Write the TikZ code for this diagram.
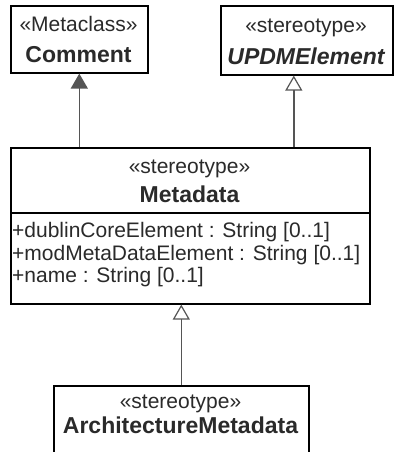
\documentclass[tikz,border=0pt]{standalone}
\usepackage{fontspec}
\setmainfont{Liberation Sans}
\usetikzlibrary{calc, arrows.meta}
\definecolor{txtgray}{HTML}{2A2A2A}
\definecolor{linegray}{HTML}{555555}
\tikzset{
  classbox/.style={draw=black, line width=1.6pt, rectangle, anchor=north west, inner sep=0pt},
  stereo/.style={anchor=base, text=txtgray, font=\fontsize{21}{22}\selectfont, inner sep=0pt},
  cname/.style={anchor=base, text=txtgray, font=\fontsize{23}{24}\selectfont\bfseries, inner sep=0pt},
  attr/.style={anchor=base west, text=txtgray, font=\fontsize{21}{22}\selectfont, inner sep=0pt},
  gen/.style={draw=linegray, line width=1.4pt, -{Triangle[open, length=15pt, width=17pt, line width=1.2pt]}},
  ext/.style={draw=linegray, line width=1.4pt, -{Triangle[length=15pt, width=17pt]}}
}
\begin{document}
\begin{tikzpicture}[x=1pt, y=1pt]
  \useasboundingbox[fill=white] (0,0) rectangle (396,-452);
  % boxes
  \node[classbox, minimum width=137pt, minimum height=67pt] (comment) at (10,-5) {};
  \node[classbox, minimum width=172pt, minimum height=69pt] (updm) at (220,-5) {};
  \node[classbox, minimum width=359pt, minimum height=156pt] (meta) at (10,-147) {};
  \node[classbox, minimum width=255pt, minimum height=80pt] (arch) at (53,-385) {};
  \draw[line width=1.6pt] (meta.west |- 0,-213) -- (meta.east |- 0,-213);
  % texts
  \node[stereo] (commentst) at (78.5,-32) {«Metaclass»};
  \node[cname] (commentnm) at (78.5,-63) {Comment};
  \node[stereo] (updmst) at (306,-33) {«stereotype»};
  \node[cname, font=\fontsize{23}{24}\selectfont\bfseries\itshape] (updmnm) at (306,-64) {UPDMElement};
  \node[stereo] (metast) at (189.5,-173) {«stereotype»};
  \node[cname] (metanm) at (189.5,-202) {Metadata};
  \node[attr] (attra) at (12,-237) {+dublinCoreElement : String [0..1]};
  \node[attr] (attrb) at (12,-260) {+modMetaDataElement : String [0..1]};
  \node[attr] (attrc) at (12,-282) {+name : String [0..1]};
  \node[stereo] (archst) at (180.5,-408) {«stereotype»};
  \node[cname] (archnm) at (180.5,-433) {ArchitectureMetadata};
  % connectors
  \coordinate (updmfoot) at ($(updm.south)+(-13pt,0)$);
  \draw[ext] (comment.south |- meta.north) -- (comment.south);
  \draw[gen] (updmfoot |- meta.north) -- (updmfoot);
  \draw[gen] (arch.north) -- (arch.north |- meta.south);
\end{tikzpicture}
\end{document}
